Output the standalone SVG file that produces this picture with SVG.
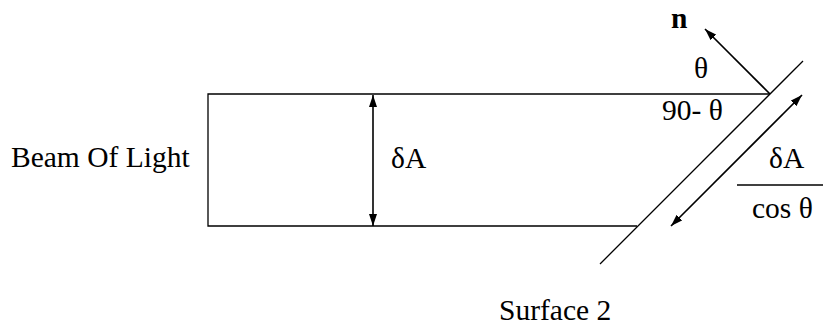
<svg xmlns="http://www.w3.org/2000/svg" width="823" height="327" viewBox="0 0 823 327">
<defs>
<marker id="ah" viewBox="0 0 12 8" refX="12" refY="4" markerWidth="12" markerHeight="8" markerUnits="userSpaceOnUse" orient="auto-start-reverse">
<path d="M0,0 L12,4 L0,8 Z" fill="#000"/>
</marker>
<style>
.t{font-family:"Liberation Serif","Times New Roman",serif;font-size:29.5px;fill:#000}
.ln{stroke:#000;stroke-width:1.3;fill:none}
.ar{stroke:#000;stroke-width:1.6;fill:none}
</style>
</defs>
<rect width="823" height="327" fill="#fff"/>
<g id="beam">
<path class="ln" d="M770,94 H208 V226 H637"/>
<text class="t" x="11" y="167">Beam Of Light</text>
</g>
<g id="surface">
<line class="ln" x1="803" y1="61" x2="600" y2="264"/>
<text class="t" x="499" y="320">Surface 2</text>
</g>
<g id="labels">
<text class="t" x="391" y="168">δA</text>
<text class="t" x="671" y="28" font-weight="bold">n</text>
<text class="t" x="694" y="78">θ</text>
<text class="t" x="662" y="120">90- θ</text>
<text class="t" x="769" y="168">δA</text>
<line class="ln" x1="737" y1="185" x2="823" y2="185"/>
<text class="t" x="752" y="218">cos θ</text>
</g>
<g id="connectors">
<line class="ar" x1="373" y1="95" x2="373" y2="226" marker-start="url(#ah)" marker-end="url(#ah)"/>
<line class="ar" x1="770" y1="94" x2="705" y2="29" marker-end="url(#ah)"/>
<line class="ar" x1="802" y1="95" x2="671" y2="226" marker-start="url(#ah)" marker-end="url(#ah)"/>
</g>
</svg>
